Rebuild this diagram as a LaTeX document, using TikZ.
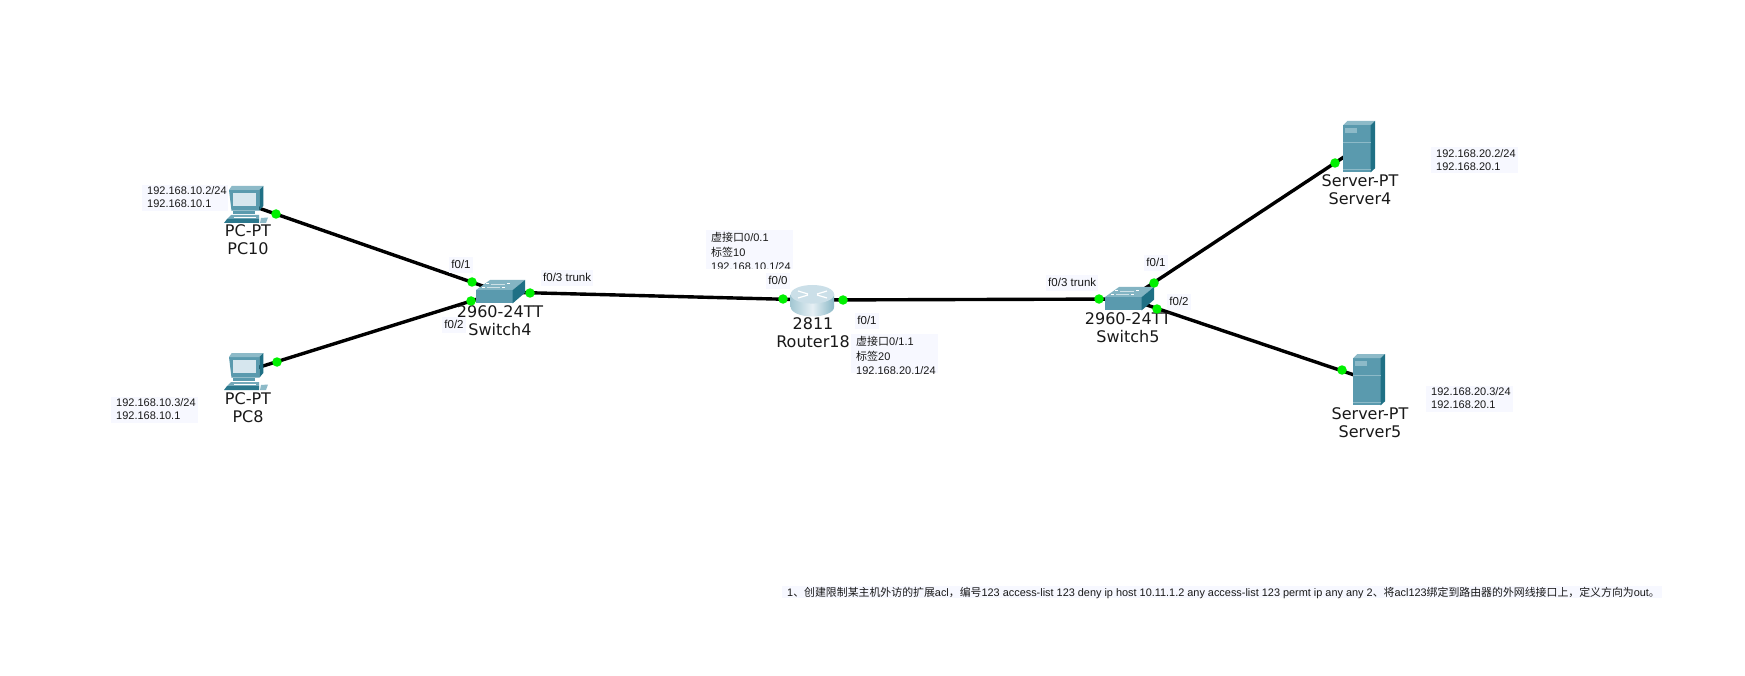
\documentclass[tikz,border=0pt]{standalone}
\usepackage{fontspec}
\setmainfont{Liberation Sans}
\newfontfamily\devfont{DejaVu Sans}
\newfontfamily\cjkfont{Noto Sans CJK SC}
\usetikzlibrary{shapes.geometric}
\definecolor{pale}{HTML}{F7F8FF}
\definecolor{teal}{HTML}{5A9AAE}
\definecolor{tealdark}{HTML}{1F7085}
\definecolor{teallight}{HTML}{8DBAC8}
\definecolor{screenc}{HTML}{D6E6EE}
\definecolor{linkgreen}{HTML}{00F000}
\tikzset{
  x=1pt,y=-1pt,
  device/.style={inner sep=0pt,minimum size=0pt},
  cable/.style={line width=3.4pt,black},
  portdot/.style={circle,fill=linkgreen,draw=none,minimum size=9.5pt,inner sep=0pt},
  devlabel/.style={font=\devfont\fontsize{16}{18}\selectfont,inner sep=0pt,anchor=center,text=black!90},
  notebox/.style={fill=pale,draw=none,inner sep=0pt,anchor=north west},
  notetext/.style={font=\fontsize{11}{12}\selectfont,inner sep=0pt,anchor=west,text height=9.5pt,text depth=2pt,text=black!90},
  bottomtext/.style={notetext,font=\fontsize{10.9}{12}\selectfont},
  portlabel/.style={font=\fontsize{11.5}{12}\selectfont,fill=pale,inner sep=2pt,text height=9.5pt,text depth=2pt,text=black!90},
  pcicon/.pic={
    \fill[teal] (-18,-14)--(12.3,-14)--(12.3,6.7)--(-15.5,6.7)--cycle;
    \fill[teallight] (-15.3,-18)--(16.3,-18)--(12.3,-14)--(-18,-14)--cycle;
    \fill[tealdark] (12.3,-14)--(16.3,-18)--(16.3,2)--(12.3,6.7)--cycle;
    \fill[screenc] (-13.7,-11.3) rectangle (8.7,2);
    \fill[teal] (-13.7,6.7) rectangle (8,10);
    \fill[teal!85!white] (-16,11)--(12,11)--(12,15)--(-20,15)--cycle;
    \fill[tealdark!80!teal] (-20,15)--(12,15)--(12,19)--(-23,19)--cycle;
    \fill[teallight] (14,14)--(21,13.5)--(19,19)--(13,19)--cycle;
    \draw[white,line width=.6pt] (-13,13)--(9,13);
  },
  switchicon/.pic={
    \fill[teal] (-24,-2) rectangle (12.7,11.3);
    \fill[teallight!80!teal] (-24,-2)--(-10,-12)--(25,-12)--(12.7,-2)--cycle;
    \fill[tealdark] (12.7,-2)--(25,-12)--(25,0.7)--(12.7,11.3)--cycle;
    \draw[white,line width=1pt] (-14,-8)--(-11,-8) (-18,-4.5)--(-15,-4.5) (7,-8)--(10,-8) (2,-4.5)--(5,-4.5);
    \draw[white!70!teal,line width=.7pt] (-9,-8)--(5,-8) (-13,-4.5)--(0,-4.5);
  },
  routericon/.pic={
    \shade[left color=teallight!80!white,right color=teallight!90!teal,middle color=screenc!60!white]
      (-22.3,-5.7)--(-22.3,7) arc[x radius=21.7,y radius=9.5,start angle=180,end angle=0]--(21.1,-5.7)--cycle;
    \fill[screenc!85!teallight] (-0.6,-5.7) ellipse[x radius=21.7,y radius=9.3];
    \draw[white,line width=1.2pt] (-15,-9)--(-5,-6) (-15,-2)--(-5,-5) (14,-9)--(4,-6) (14,-2)--(4,-5);
  },
  servericon/.pic={
    \fill[teal] (-15.7,-22) rectangle (11.7,25.3);
    \fill[teallight] (-15.7,-22)--(-11.7,-26)--(16,-26)--(11.7,-22)--cycle;
    \fill[tealdark] (11.7,-22)--(16,-26)--(16,21.3)--(11.7,25.3)--cycle;
    \fill[teallight] (-14,-18.7) rectangle (-1.7,-13.7);
    \draw[teallight,line width=.6pt] (-15.7,-4.3)--(11.7,-4.3) (-15.7,22)--(11.7,22);
  }
}
\begin{document}
\begin{tikzpicture}
\useasboundingbox[fill=white] (0,0) rectangle (1745,676);
% device centres
\coordinate (pc10) at (247,204);
\coordinate (pc8) at (247,371);
\coordinate (sw4) at (500,292);
\coordinate (r18) at (813,300);
\coordinate (sw5) at (1129,299);
\coordinate (srv4) at (1359,147);
\coordinate (srv5) at (1369,380);
% note backgrounds
\node[notebox,minimum width=86pt,minimum height=26pt] (n1) at (142,185) {};
\node[notebox,minimum width=87pt,minimum height=26pt] (n2) at (111,397) {};
\node[notebox,minimum width=87pt,minimum height=26pt] (n5) at (1431,147) {};
\node[notebox,minimum width=87pt,minimum height=26pt] (n6) at (1426,386) {};
\node[notebox,minimum width=87pt,minimum height=39pt] (n3) at (706,230) {};
\node[notebox,minimum width=87pt,minimum height=39pt] (n4) at (851,334) {};
\node[notebox,minimum width=880pt,minimum height=12pt] (n7) at (782,586) {};
% cables
\draw[cable] (pc10) -- (sw4);
\draw[cable] (pc8) -- (sw4);
\draw[cable] (sw4) -- (r18);
\draw[cable] (r18) -- (sw5);
\draw[cable] (sw5) -- (srv4);
\draw[cable] (sw5) -- (srv5);
% icons
\pic at (pc10) {pcicon};
\pic at (pc8) {pcicon};
\pic at (sw4) {switchicon};
\pic at (r18) {routericon};
\pic at (sw5) {switchicon};
\pic at (srv4) {servericon};
\pic at (srv5) {servericon};
% device labels
\node[devlabel] (l1) at (248,231) {PC-PT};
\node[devlabel] (l2) at (248,249) {PC10};
\node[devlabel] (l3) at (248,399) {PC-PT};
\node[devlabel] (l4) at (248,417) {PC8};
\node[devlabel] (l5) at (500,312) {2960-24TT};
\node[devlabel] (l6) at (500,330) {Switch4};
\node[devlabel] (l7) at (813,324) {2811};
\node[devlabel] (l8) at (813,342) {Router18};
\node[devlabel] (l9) at (1128,319) {2960-24TT};
\node[devlabel] (l10) at (1128,337) {Switch5};
\node[devlabel] (l11) at (1360,181) {Server-PT};
\node[devlabel] (l12) at (1360,199) {Server4};
\node[devlabel] (l13) at (1370,414) {Server-PT};
\node[devlabel] (l14) at (1370,432) {Server5};
% note text
\node[notetext] (t1) at (147,191) {192.168.10.2/24};
\node[notetext] (t2) at (147,204) {192.168.10.1};
\node[notetext] (t3) at (116,403) {192.168.10.3/24};
\node[notetext] (t4) at (116,416) {192.168.10.1};
\node[notetext] (t5) at (1436,154) {192.168.20.2/24};
\node[notetext] (t6) at (1436,167) {192.168.20.1};
\node[notetext] (t7) at (1431,392) {192.168.20.3/24};
\node[notetext] (t8) at (1431,405) {192.168.20.1};
\begin{scope}
\clip (706,230) rectangle (793,269);
\node[notetext] (t9) at (711,238) {{\cjkfont 虚接口}0/0.1};
\node[notetext] (t10) at (711,253) {{\cjkfont 标签}10};
\node[notetext] (t11) at (711,267) {192.168.10.1/24};
\end{scope}
\begin{scope}
\clip (851,334) rectangle (938,373);
\node[notetext] (t12) at (856,342) {{\cjkfont 虚接口}0/1.1};
\node[notetext] (t13) at (856,357) {{\cjkfont 标签}20};
\node[notetext] (t14) at (856,371) {192.168.20.1/24};
\end{scope}
\begin{scope}
\clip (782,586) rectangle (1662,598);
\node[bottomtext] (t15) at (787,593) {1{\cjkfont 、创建限制某主机外访的扩展}acl{\cjkfont ，编号}123 access-list 123 deny ip host 10.11.1.2 any access-list 123 permt ip any any 2{\cjkfont 、将}acl123{\cjkfont 绑定到路由器的外网线接口上，定义方向为}out{\cjkfont 。}};
\end{scope}
% port labels
\node[portlabel] (p1) at (461,265) {f0/1};
\node[portlabel] (p2) at (454,325) {f0/2};
\node[portlabel,anchor=west] (p3) at (541,278) {f0/3 trunk};
\node[portlabel] (p4) at (778,281) {f0/0};
\node[portlabel] (p5) at (867,321) {f0/1};
\node[portlabel,anchor=west] (p6) at (1046,283) {f0/3 trunk};
\node[portlabel] (p7) at (1156,263) {f0/1};
\node[portlabel] (p8) at (1179,302) {f0/2};
% link lights
\node[portdot] (d1) at (276,214) {};
\node[portdot] (d2) at (472,282) {};
\node[portdot] (d3) at (277,362) {};
\node[portdot] (d4) at (471,301) {};
\node[portdot] (d5) at (530,293) {};
\node[portdot] (d6) at (783,299) {};
\node[portdot] (d7) at (843,300) {};
\node[portdot] (d8) at (1099,299) {};
\node[portdot] (d9) at (1154,283) {};
\node[portdot] (d10) at (1157,309) {};
\node[portdot] (d11) at (1335,163) {};
\node[portdot] (d12) at (1342,370) {};
\end{tikzpicture}
\end{document}
